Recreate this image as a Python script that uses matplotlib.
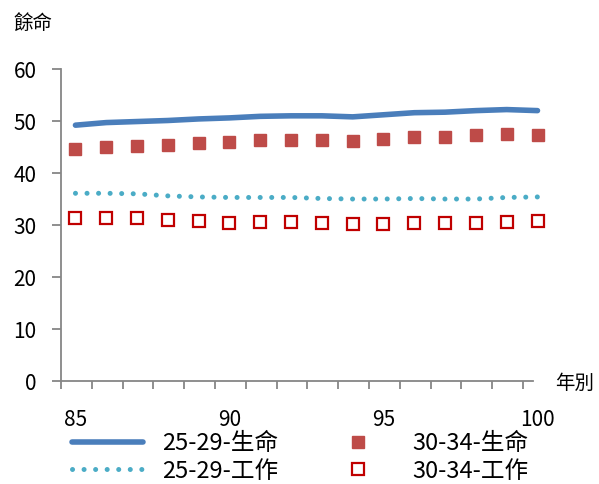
import matplotlib
matplotlib.use("Agg")
import matplotlib.pyplot as plt

plt.rcParams['font.family'] = ['Noto Sans CJK TC', 'DejaVu Sans']

years = list(range(85, 101))
life_25_29 = [49.2, 49.7, 49.9, 50.1, 50.4, 50.6, 50.9, 51.0, 51.0, 50.8, 51.2, 51.6, 51.7, 52.0, 52.2, 52.0]
life_30_34 = [44.6, 45.0, 45.2, 45.4, 45.7, 45.9, 46.3, 46.4, 46.3, 46.2, 46.5, 46.9, 47.0, 47.4, 47.5, 47.3]
work_25_29 = [36.1, 36.1, 36.0, 35.6, 35.4, 35.3, 35.3, 35.3, 35.1, 35.0, 35.0, 35.1, 35.0, 35.0, 35.3, 35.4]
work_30_34 = [31.3, 31.4, 31.4, 31.0, 30.8, 30.4, 30.5, 30.5, 30.3, 30.2, 30.2, 30.3, 30.3, 30.3, 30.5, 30.8]
labels = ['25-29-生命', '25-29-工作', '30-34-生命', '30-34-工作']
xtick_labels = [85, 90, 95, 100]

fig = plt.figure(figsize=(5.99, 4.84), dpi=100)
ax = fig.add_axes([0.1018, 0.2128, 0.8197, 0.6446])

c_blue = '#4a7ebb'
c_red = '#be4b48'
c_cyan = '#4bacc6'
c_open = '#c00000'

l1, = ax.plot(years, life_25_29, color=c_blue, lw=4.0, solid_capstyle='round', clip_on=False)
l2, = ax.plot(years, work_25_29, color=c_cyan, lw=3.6, linestyle=(0, (0.01, 2.3)),
              dash_capstyle='round', clip_on=False)
l3, = ax.plot(years, life_30_34, 's', color=c_red, ms=9, mec=c_red, clip_on=False, linestyle='none')
l4, = ax.plot(years, work_30_34, 's', mfc='white', mec=c_open, mew=1.6, ms=8, clip_on=False, linestyle='none')

xmin = 84.53
ax.set_xlim(xmin, 100.47)
ax.set_ylim(0, 60)
ax.spines['top'].set_visible(False)
ax.spines['right'].set_visible(False)
for s in ['left', 'bottom']:
    ax.spines[s].set_color('#868686')
    ax.spines[s].set_linewidth(1.3)
ax.spines['bottom'].set_bounds(xmin, 99.85)

ax.set_yticks(range(0, 61, 10))
ax.tick_params(axis='y', length=6.5, width=1.3, color='#868686', labelsize=15, pad=11)
ax.set_xticks(xtick_labels)
ax.set_xticklabels([str(v) for v in xtick_labels])
ax.set_xticks([xmin + k for k in range(16)], minor=True)
ax.tick_params(axis='x', which='major', length=0, labelsize=15, pad=20)
ax.tick_params(axis='x', which='minor', length=6, width=1.3, color='#868686')

fig.text(13/599, 1 - 23/484, '餘命', fontsize=14, va='center', ha='left')
fig.text(555/599, 1 - 383/484, '年別', fontsize=14, va='center', ha='left')

leg = fig.legend([l1, l2, l3, l4], labels, ncol=2, loc='upper left',
                 bbox_to_anchor=(72/599, 1 - 432/484), frameon=False,
                 fontsize=17, handlelength=3.0, handletextpad=0.8,
                 columnspacing=1.9, labelspacing=0.2, borderaxespad=0, borderpad=0)

fig.savefig('out.png', dpi=100)
